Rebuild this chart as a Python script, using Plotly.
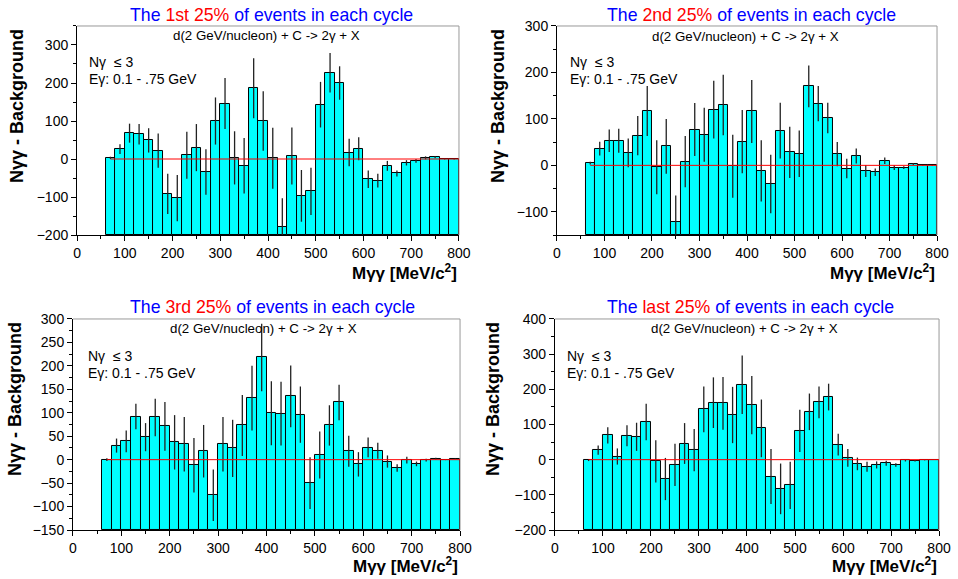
import plotly.graph_objects as go

# bin edges 60..800 step 20 -> centers
bin_centers = [70 + 20 * i for i in range(37)]

q1_vals = [3, 26, 68, 65, 49, 22, -92, -103, 10, 30, -34, 100, 146, 3, -18, 186, 100, 2,
           -178, 8, -97, -85, 143, 227, 200, 17, 27, -53, -57, -18, -38, -10, -5, 3, 5, 0, 0]
q1_errs = [3, 13, 25, 27, 32, 45, 53, 61, 62, 62, 60, 62, 67, 70, 73, 79, 78, 80,
           75, 75, 68, 62, 60, 52, 44, 36, 30, 23, 18, 13, 8, 7, 5, 4, 3, 1, 1]

q2_vals = [5, 36, 53, 53, 27, 64, 117, -4, 41, -121, 8, 77, 66, 120, 130, -2, 51, 116,
           -12, -40, 75, 28, 25, 170, 133, 102, 24, -7, 20, -12, -15, 10, -5, -5, 3, 0, 0]
q2_errs = [3, 15, 24, 26, 31, 42, 54, 58, 59, 56, 55, 57, 58, 62, 65, 68, 68, 68,
           66, 63, 60, 55, 50, 45, 38, 33, 26, 21, 16, 13, 8, 7, 5, 3, 2, 1, 1]

q3_vals = [0, 30, 39, 92, 48, 90, 71, 37, 33, -12, 18, -76, 33, 24, 73, 131, 218, 99,
           98, 135, 96, -50, 10, 73, 122, 18, -10, 26, 19, -4, -18, -1, -9, -1, 2, 0, 2]
q3_errs = [3, 15, 23, 27, 30, 40, 52, 58, 58, 58, 56, 55, 58, 61, 65, 69, 72, 68,
           68, 66, 60, 55, 50, 43, 38, 33, 26, 21, 17, 13, 8, 7, 5, 3, 2, 1, 1]

q4_vals = [-2, 27, 69, 9, 68, 65, 107, -5, -55, -15, 46, 27, 143, 162, 160, 127, 213, 155,
           89, -48, -83, -73, 82, 136, 163, 178, 43, 5, -12, -20, -15, -10, -15, -2, -3, -1, 0]
q4_errs = [2, 13, 23, 23, 30, 40, 52, 60, 60, 60, 58, 60, 65, 72, 75, 80, 83, 83,
           82, 78, 72, 67, 60, 52, 45, 38, 31, 25, 18, 14, 10, 7, 5, 3, 2, 1, 1]

panel_labels = ["1st 25%", "2nd 25%", "3rd 25%", "last 25%"]
y_ranges = [[-200, 350], [-150, 300], [-150, 300], [-200, 400]]
y_dticks = [100, 100, 50, 100]
x_range = [0, 800]

FONT = "Arial, Liberation Sans, sans-serif"

# plot-area domains (paper fractions)
x_domains = [[0.0804, 0.4791], [0.5814, 0.9781], [0.0762, 0.4802], [0.5793, 0.9802]]
y_domains = [[0.5941, 0.9551], [0.5941, 0.9551], [0.0846, 0.4491], [0.0846, 0.4491]]

W, H = 958, 579
title_pos = [(271, 15), (751, 15), (272, 307), (750, 307)]
sub_pos = [(266, 35), (745, 36), (263, 329), (744, 329)]
ng_pos = [(87, 62), (568, 62), (86, 356), (565, 356)]
yt_pos = [(17, 106), (498, 106), (15, 399), (493, 399)]
xt_pos = [(459, 272), (937, 272), (460, 565), (939, 565)]

fig = go.Figure()
layout = dict(width=W, height=H, autosize=False, margin=dict(l=0, r=0, t=0, b=0, pad=0),
              paper_bgcolor="white", plot_bgcolor="white", showlegend=False,
              bargap=0, font=dict(family=FONT, size=14, color="black"))
annotations = []
shapes = []

data = [(q1_vals, q1_errs), (q2_vals, q2_errs), (q3_vals, q3_errs), (q4_vals, q4_errs)]

for i, (vals, errs) in enumerate(data):
    n = i + 1
    xa = "x" if n == 1 else f"x{n}"
    ya = "y" if n == 1 else f"y{n}"
    ymin = y_ranges[i][0]
    fig.add_trace(go.Bar(
        x=bin_centers, y=[v - ymin for v in vals], base=[ymin] * len(vals),
        width=20, xaxis=xa, yaxis=ya,
        marker=dict(color="#00FFFF", line=dict(color="black", width=1)),
        error_y=dict(type="data", array=errs, color="#222222", thickness=1.3, width=0),
    ))
    axis_common = dict(showgrid=False, zeroline=False, showline=True, linecolor="black",
                       linewidth=1, ticks="outside", ticklen=5, tickcolor="black",
                       automargin=False,
                       tickfont=dict(family=FONT, size=14, color="black"))
    layout["xaxis" if n == 1 else f"xaxis{n}"] = dict(
        domain=x_domains[i], anchor=ya, range=x_range, dtick=100, tick0=0,
        minor=dict(dtick=50, ticks="outside", ticklen=3, tickcolor="black"),
        **axis_common)
    layout["yaxis" if n == 1 else f"yaxis{n}"] = dict(
        domain=y_domains[i], anchor=xa, range=y_ranges[i], dtick=y_dticks[i], tick0=0,
        minor=dict(dtick=y_dticks[i] / 2, ticks="outside", ticklen=3, tickcolor="black"),
        **axis_common)
    # gray frame top/right
    shapes.append(dict(type="line", xref=f"{xa} domain", yref=f"{ya} domain",
                       x0=0, x1=1, y0=1, y1=1, line=dict(color="#999999", width=1)))
    shapes.append(dict(type="line", xref=f"{xa} domain", yref=f"{ya} domain",
                       x0=1, x1=1, y0=0, y1=1, line=dict(color="#999999", width=1)))
    # red zero line
    shapes.append(dict(type="line", xref=xa, yref=ya, x0=bin_centers[0], x1=x_range[1],
                       y0=0, y1=0, line=dict(color="red", width=1), layer="above"))

    tx, ty = title_pos[i]
    annotations.append(dict(
        x=tx / W, y=1 - ty / H, xref="paper", yref="paper", showarrow=False,
        xanchor="center", yanchor="middle",
        text=f"<span style='color:#0000FF'>The </span><span style='color:#FF0000'>{panel_labels[i]}</span>"
             f"<span style='color:#0000FF'> of events in each cycle</span>",
        font=dict(family=FONT, size=17.7)))
    sx, sy = sub_pos[i]
    annotations.append(dict(
        x=sx / W, y=1 - sy / H, xref="paper", yref="paper", showarrow=False,
        xanchor="center", yanchor="middle",
        text="d(2 GeV/nucleon) + C -> 2γ + X", font=dict(family=FONT, size=13.3)))
    gx, gy = ng_pos[i]
    annotations.append(dict(
        x=gx / W, y=1 - gy / H, xref="paper", yref="paper", showarrow=False,
        xanchor="left", yanchor="middle", align="left",
        text="Nγ  ≤ 3", font=dict(family=FONT, size=14)))
    annotations.append(dict(
        x=gx / W, y=1 - (gy + 17) / H, xref="paper", yref="paper", showarrow=False,
        xanchor="left", yanchor="middle", align="left",
        text="Eγ: 0.1 - .75 GeV", font=dict(family=FONT, size=14)))
    yx, yy = yt_pos[i]
    annotations.append(dict(
        x=yx / W, y=1 - yy / H, xref="paper", yref="paper", showarrow=False,
        xanchor="center", yanchor="middle", textangle=-90,
        text="<b>Nγγ - Background</b>", font=dict(family=FONT, size=18)))
    xx, xy = xt_pos[i]
    annotations.append(dict(
        x=xx / W, y=1 - xy / H, xref="paper", yref="paper", showarrow=False,
        xanchor="right", yanchor="middle",
        text="<b>Mγγ [MeV/c<sup>2</sup>]</b>", font=dict(family=FONT, size=17)))

layout["annotations"] = annotations
layout["shapes"] = shapes
fig.update_layout(**layout)
fig.write_html("out.html", default_width="958px", default_height="579px",
               config={"displayModeBar": False},
               post_script="document.body.style.margin='0';document.body.style.overflow='hidden';")
